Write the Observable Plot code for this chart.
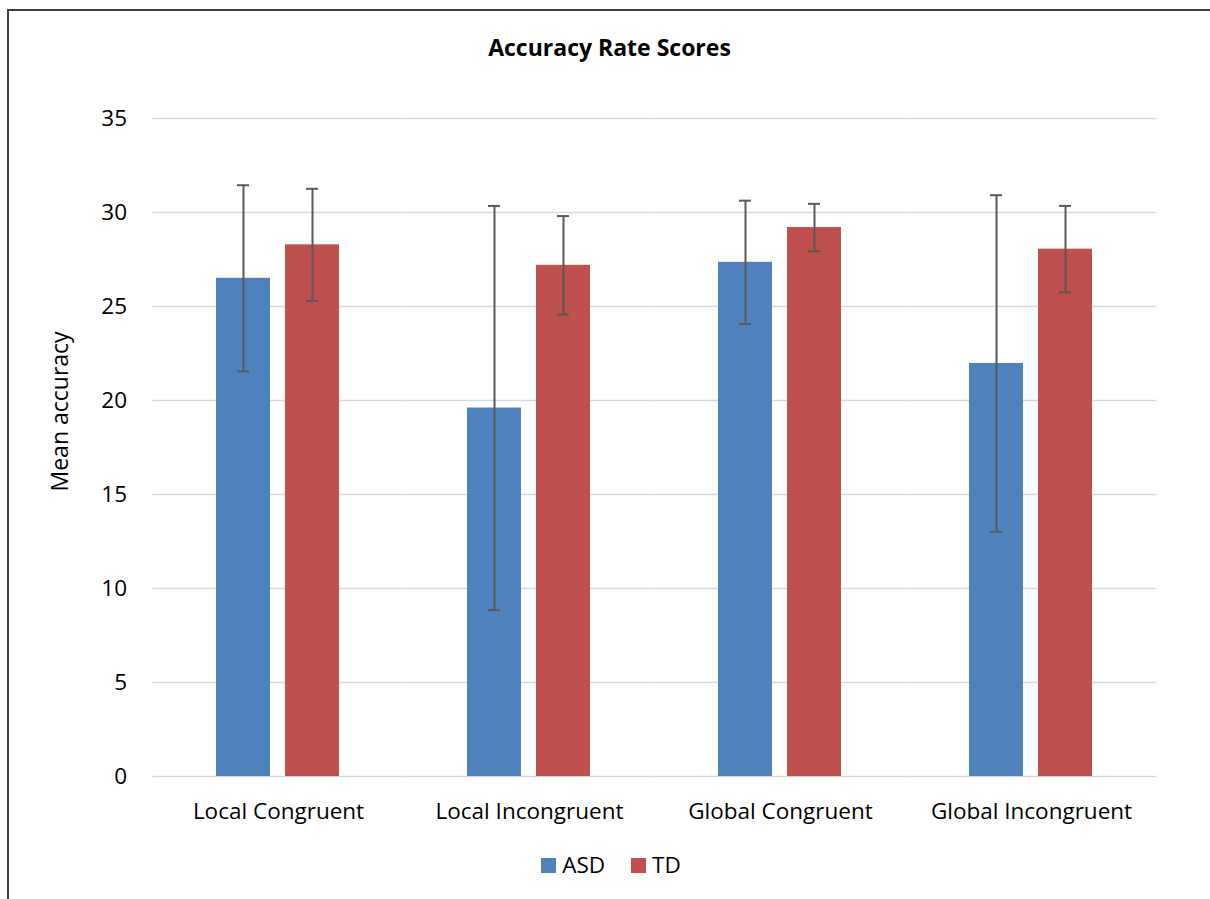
<!DOCTYPE html>
<html>
<head>
<meta charset="utf-8">
<script src="https://cdn.jsdelivr.net/npm/d3@7"></script>
<script src="https://cdn.jsdelivr.net/npm/@observablehq/plot@0.6"></script>
<style>
  html, body { margin: 0; padding: 0; background: #fff; }
  body { width: 1210px; height: 899px; position: relative; overflow: hidden; font-family: "Open Sans", Lato, sans-serif; }
  #frame { position: absolute; left: 7px; top: 9px; width: 1203px; height: 890px; border-left: 2px solid #404040; border-top: 2px solid #404040; box-sizing: border-box; pointer-events: none; }
  #title { height: 90px; box-sizing: border-box; padding-top: 34px; padding-left: 9px; text-align: center; font-weight: bold; font-size: 23px; line-height: 26px; color: #000; }
  #chart svg { display: block; }
  #legend { height: 30px; box-sizing: border-box; padding-left: 12px; display: flex; justify-content: center; align-items: center; gap: 26px; font-size: 22.5px; line-height: 30px; color: #000; }
  .item { display: flex; align-items: center; gap: 6px; }
  .sw { width: 15px; height: 15px; display: inline-block; }
</style>
</head>
<body>
<div id="frame"></div>
<div id="title">Accuracy Rate Scores</div>
<div id="chart"></div>
<div id="legend"></div>
<script>
const categories = ["Local Congruent", "Local Incongruent", "Global Congruent", "Global Incongruent"];
const groups = ["ASD", "TD"];
const asdMeans = [26.5, 19.6, 27.35, 21.97];
const asdErrors = [4.95, 10.75, 3.28, 8.95];
const tdMeans = [28.28, 27.19, 29.2, 28.05];
const tdErrors = [2.98, 2.62, 1.26, 2.3];
const yTicks = [0, 5, 10, 15, 20, 25, 30, 35];
const colors = ["#4f81bd", "#c0504d"];

const data = categories.flatMap((c, i) => [
  {category: c, group: "ASD", mean: asdMeans[i], err: asdErrors[i]},
  {category: c, group: "TD", mean: tdMeans[i], err: tdErrors[i]}
]);

const errColor = "#595959";
const fxStep = 1005 / categories.length;
const halfGap = 0.2525 * fxStep;

const plot = Plot.plot({
  width: 1210,
  height: 760,
  marginTop: 28,
  marginBottom: 74,
  marginLeft: 152,
  marginRight: 53,
  style: {fontFamily: "'Open Sans', Lato, sans-serif", fontSize: "22.5px", color: "#000", background: "transparent"},
  fx: {domain: categories, paddingInner: 0.505, paddingOuter: 0.2525, label: null, axis: null},
  x: {domain: groups, paddingInner: 0.211, paddingOuter: 0, axis: null},
  y: {domain: [0, 35], label: null, axis: null},
  color: {domain: groups, range: colors},
  marks: [
    Plot.ruleY(yTicks, {stroke: "#d9d9d9", strokeWidth: 1.6, insetLeft: -halfGap, insetRight: -halfGap}),
    Plot.axisY({ticks: yTicks, tickSize: 0, tickPadding: 26 + halfGap, fontSize: 22.5, label: null}),
    Plot.axisFx({anchor: "bottom", tickSize: 0, tickPadding: 27, fontSize: 22.5, label: null}),
    Plot.text(["Mean accuracy"], {fx: [categories[0]], frameAnchor: "left", dx: -(halfGap + 92), dy: 44, rotate: -90, fontSize: 23, fill: "#000"}),
    Plot.barY(data, {fx: "category", x: "group", y: "mean", fill: "group"}),
    Plot.ruleX(data, {fx: "category", x: "group", y1: d => d.mean - d.err, y2: d => d.mean + d.err, stroke: errColor, strokeWidth: 2}),
    Plot.tickY(data, {fx: "category", x: "group", y: d => d.mean - d.err, stroke: errColor, strokeWidth: 2, insetLeft: 21, insetRight: 21}),
    Plot.tickY(data, {fx: "category", x: "group", y: d => d.mean + d.err, stroke: errColor, strokeWidth: 2, insetLeft: 21, insetRight: 21})
  ]
});
document.getElementById("chart").appendChild(plot);

const legend = document.getElementById("legend");
groups.forEach((g, i) => {
  const item = document.createElement("span");
  item.className = "item";
  const sw = document.createElement("span");
  sw.className = "sw";
  sw.style.background = colors[i];
  const lab = document.createElement("span");
  lab.textContent = g;
  item.appendChild(sw);
  item.appendChild(lab);
  legend.appendChild(item);
});
</script>
</body>
</html>
